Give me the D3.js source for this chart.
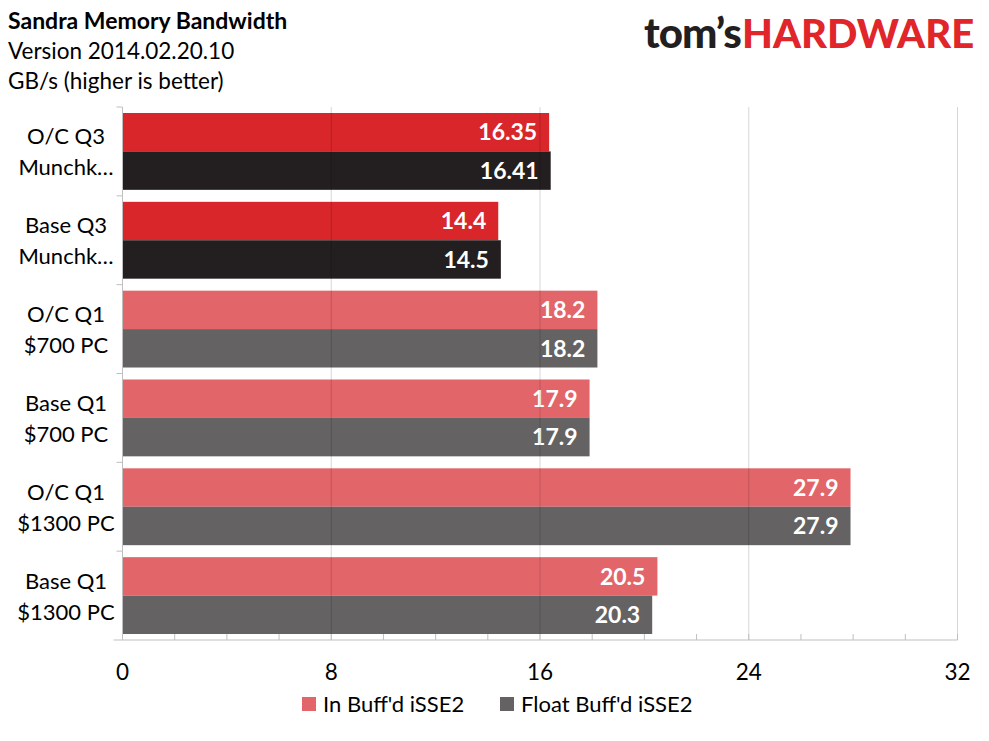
<!doctype html>
<html>
<head>
    <meta charset="utf-8"/>
    <style>
        body { margin: 0; background: #fff; }
        svg { display: block; font-family: Lato, "Open Sans", sans-serif; }
    </style>
    <script src="https://d3js.org/d3.v7.min.js"></script>
</head>
<body>
<svg width="989" height="741"></svg>
<script>

    // chart data
    var categories = [
        ["O/C Q3", "Munchk\u2026"],
        ["Base Q3", "Munchk\u2026"],
        ["O/C Q1", "$700 PC"],
        ["Base Q1", "$700 PC"],
        ["O/C Q1", "$1300 PC"],
        ["Base Q1", "$1300 PC"]
    ];
    var seriesNames = ["In Buff'd iSSE2", "Float Buff'd iSSE2"];
    var inBuff = [16.35, 14.4, 18.2, 17.9, 27.9, 20.5];
    var floatBuff = [16.41, 14.5, 18.2, 17.9, 27.9, 20.3];
    var xTicks = [0, 8, 16, 24, 32];
    var highlighted = [0, 1]; // the Q3 Munchkin rows use the strong colours

    var colors = {
        normal: ["#e2656a", "#646263"],
        strong: ["#d8262b", "#231f20"]
    };

    var svg = d3.select("svg");

    var margin = {left: 122.5, right: 31.5, top: 107, bottom: 101};
    var width = 989, height = 741;

    var x = d3.scaleLinear()
        .domain([0, 32])
        .range([margin.left, width - margin.right]);

    var y = d3.scaleBand()
        .domain(d3.range(categories.length))
        .range([margin.top, height - margin.bottom])
        .paddingInner(0.135)
        .paddingOuter(0.0675);

    var ySub = d3.scaleBand()
        .domain([0, 1])
        .range([0, y.bandwidth()]);

    // titles
    var titles = [
        {text: "Sandra Memory Bandwidth", bold: true},
        {text: "Version 2014.02.20.10", bold: false},
        {text: "GB/s (higher is better)", bold: false}
    ];
    svg.selectAll(".title")
        .data(titles)
        .join("text")
        .attr("class", "title")
        .attr("x", 8)
        .attr("y", function(d, i) { return 29 + i * 30; })
        .attr("font-size", function(d) { return d.bold ? 23 : 22.5; })
        .attr("font-weight", function(d) { return d.bold ? 700 : 400; })
        .attr("fill", "#000")
        .text(function(d) { return d.text; });

    // logo
    var logo = svg.append("g").attr("font-weight", 900);
    logo.append("text")
        .attr("x", 644).attr("y", 48)
        .attr("font-size", 42)
        .attr("letter-spacing", -1)
        .attr("fill", "#231f20")
        .text("tom\u2019s");
    logo.append("text")
        .attr("x", 742).attr("y", 48)
        .attr("font-size", 40)
        .attr("fill", "#e0252b")
        .text("HARDWARE");

    // bars
    var rows = categories.map(function(c, i) {
        return {i: i, values: [inBuff[i], floatBuff[i]]};
    });

    var row = svg.selectAll(".row")
        .data(rows)
        .join("g")
        .attr("class", "row")
        .attr("transform", function(d) { return "translate(0," + y(d.i) + ")"; });

    row.selectAll("rect")
        .data(function(d) {
            return d.values.map(function(v, s) { return {v: v, s: s, i: d.i}; });
        })
        .join("rect")
        .attr("x", x(0))
        .attr("y", function(d) { return ySub(d.s); })
        .attr("width", function(d) { return x(d.v) - x(0); })
        .attr("height", ySub.bandwidth())
        .attr("fill", function(d) {
            var set = highlighted.indexOf(d.i) >= 0 ? colors.strong : colors.normal;
            return set[d.s];
        });

    // gridlines (on top, faint like the original)
    svg.selectAll(".grid")
        .data(xTicks.slice(1))
        .join("line")
        .attr("class", "grid")
        .attr("x1", function(d) { return x(d); })
        .attr("x2", function(d) { return x(d); })
        .attr("y1", margin.top)
        .attr("y2", height - margin.bottom)
        .attr("stroke", "rgba(0,0,0,0.16)")
        .attr("stroke-width", 1);

    // value labels
    row.selectAll(".val")
        .data(function(d) {
            return d.values.map(function(v, s) { return {v: v, s: s}; });
        })
        .join("text")
        .attr("class", "val")
        .attr("x", function(d) { return x(d.v) - 12; })
        .attr("y", function(d) { return ySub(d.s) + ySub.bandwidth() / 2; })
        .attr("dy", "0.36em")
        .attr("text-anchor", "end")
        .attr("font-size", 23)
        .attr("font-weight", 700)
        .attr("fill", "#fff")
        .text(function(d) { return d.v; });

    // left axis
    var axisColor = "#bfbfbf";
    svg.append("line")
        .attr("x1", x(0)).attr("x2", x(0))
        .attr("y1", margin.top).attr("y2", height - margin.bottom)
        .attr("stroke", axisColor);

    svg.selectAll(".ytick")
        .data(d3.range(categories.length))
        .join("line")
        .attr("class", "ytick")
        .attr("x1", x(0) - 6).attr("x2", x(0))
        .attr("y1", function(d) { return y(d) - y.step() * y.paddingOuter(); })
        .attr("y2", function(d) { return y(d) - y.step() * y.paddingOuter(); })
        .attr("stroke", axisColor);

    svg.selectAll(".cat")
        .data(categories)
        .join("text")
        .attr("class", "cat")
        .attr("x", 66)
        .attr("y", function(d, i) { return y(i) + y.bandwidth() / 2 - 7; })
        .attr("text-anchor", "middle")
        .attr("font-size", 22)
        .attr("fill", "#000")
        .selectAll("tspan")
        .data(function(d) { return d; })
        .join("tspan")
        .attr("x", 66)
        .attr("dy", function(d, i) { return i === 0 ? 0 : 31; })
        .text(function(d) { return d; });

    // bottom axis
    var base = height - margin.bottom;
    svg.append("line")
        .attr("x1", x(0) - 9).attr("x2", x(32))
        .attr("y1", base).attr("y2", base)
        .attr("stroke", axisColor);

    svg.selectAll(".minor")
        .data(d3.range(0, 33, 2))
        .join("line")
        .attr("class", "minor")
        .attr("x1", function(d) { return x(d); })
        .attr("x2", function(d) { return x(d); })
        .attr("y1", base - 6).attr("y2", base)
        .attr("stroke", axisColor);

    svg.selectAll(".xlabel")
        .data(xTicks)
        .join("text")
        .attr("class", "xlabel")
        .attr("x", function(d) { return x(d); })
        .attr("y", 680)
        .attr("text-anchor", "middle")
        .attr("font-size", 22.5)
        .attr("fill", "#000")
        .text(function(d) { return d; });

    // legend
    var legendX = [302, 500];
    var legend = svg.selectAll(".legend")
        .data(seriesNames)
        .join("g")
        .attr("class", "legend")
        .attr("transform", function(d, i) { return "translate(" + legendX[i] + ",697)"; });
    legend.append("rect")
        .attr("width", 14).attr("height", 14)
        .attr("fill", function(d, i) { return colors.normal[i]; });
    legend.append("text")
        .attr("x", 21).attr("y", 7)
        .attr("dy", "0.36em")
        .attr("font-size", 22)
        .attr("fill", "#000")
        .text(function(d) { return d; });

</script>
</body>
</html>
